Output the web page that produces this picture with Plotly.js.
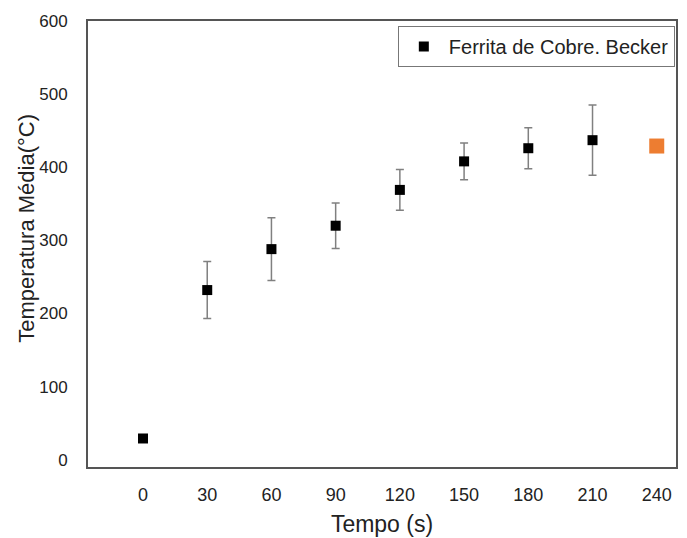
<!DOCTYPE html>
<html>
<head>
<meta charset="utf-8">
<script src="https://cdn.plot.ly/plotly-3.0.1.min.js"></script>
<style>html,body{margin:0;padding:0;background:#fff;}#chart{width:687px;height:538px;}</style>
</head>
<body>
<div id="chart"></div>
<script>
// Data
var tempo = [0, 30, 60, 90, 120, 150, 180, 210];
var temperatura = [29, 232, 288, 320, 369, 408, 426, 437];
var erro = [0, 39, 43, 31, 28, 25, 28, 48];
var tempoExtra = [240];
var temperaturaExtra = [429];
var xTicks = [0, 30, 60, 90, 120, 150, 180, 210, 240];
var yTicks = [0, 100, 200, 300, 400, 500, 600];
var serieNome = "Ferrita de Cobre. Becker";
var xTitulo = "Tempo (s)";
var yTitulo = "Temperatura Média(°C)";

var font = "Liberation Sans, Arial, sans-serif";

var traces = [
  {
    x: tempo, y: temperatura, type: "scatter", mode: "markers", name: serieNome,
    marker: {symbol: "square", size: 10, color: "#000000"},
    error_y: {type: "data", array: erro, visible: true, color: "#808080", thickness: 1.5, width: 4},
    showlegend: true
  },
  {
    x: tempoExtra, y: temperaturaExtra, type: "scatter", mode: "markers",
    marker: {symbol: "square", size: 15, color: "#ED7D31"},
    showlegend: false
  }
];

var layout = {
  width: 687, height: 538,
  margin: {l: 88, r: 11, t: 21, b: 71},
  paper_bgcolor: "#ffffff", plot_bgcolor: "#ffffff",
  font: {family: font, color: "#222222", size: 17},
  xaxis: {
    range: [-25.7, 249], tickvals: xTicks, ticktext: xTicks.map(String),
    showgrid: false, zeroline: false, showline: true, mirror: true,
    linecolor: "#555555", linewidth: 2, ticks: "", ticklabelstandoff: 10,
    tickfont: {size: 18, color: "#222222"},
    title: {text: xTitulo, font: {size: 23, color: "#222222"}, standoff: 12}
  },
  yaxis: {
    range: [-10, 600], tickvals: yTicks, ticktext: yTicks.map(String),
    showgrid: false, zeroline: false, showline: true, mirror: true,
    linecolor: "#555555", linewidth: 2, ticks: "", ticklabelstandoff: 15,
    tickfont: {size: 17, color: "#222222"}
  },
  annotations: [
    {
      text: yTitulo, xref: "paper", yref: "paper", x: 0, y: 0.534,
      xshift: -61, xanchor: "center", yanchor: "middle", textangle: -90,
      showarrow: false, font: {size: 22, color: "#222222", family: font}
    }
  ],
  legend: {
    x: 0.998, y: 0.989, xanchor: "right", yanchor: "top",
    bgcolor: "#ffffff", bordercolor: "#777777", borderwidth: 1,
    itemwidth: 40,
    font: {size: 20, color: "#222222"}
  },
  showlegend: true
};

Plotly.newPlot("chart", traces, layout, {displayModeBar: false, staticPlot: true});
</script>
</body>
</html>
